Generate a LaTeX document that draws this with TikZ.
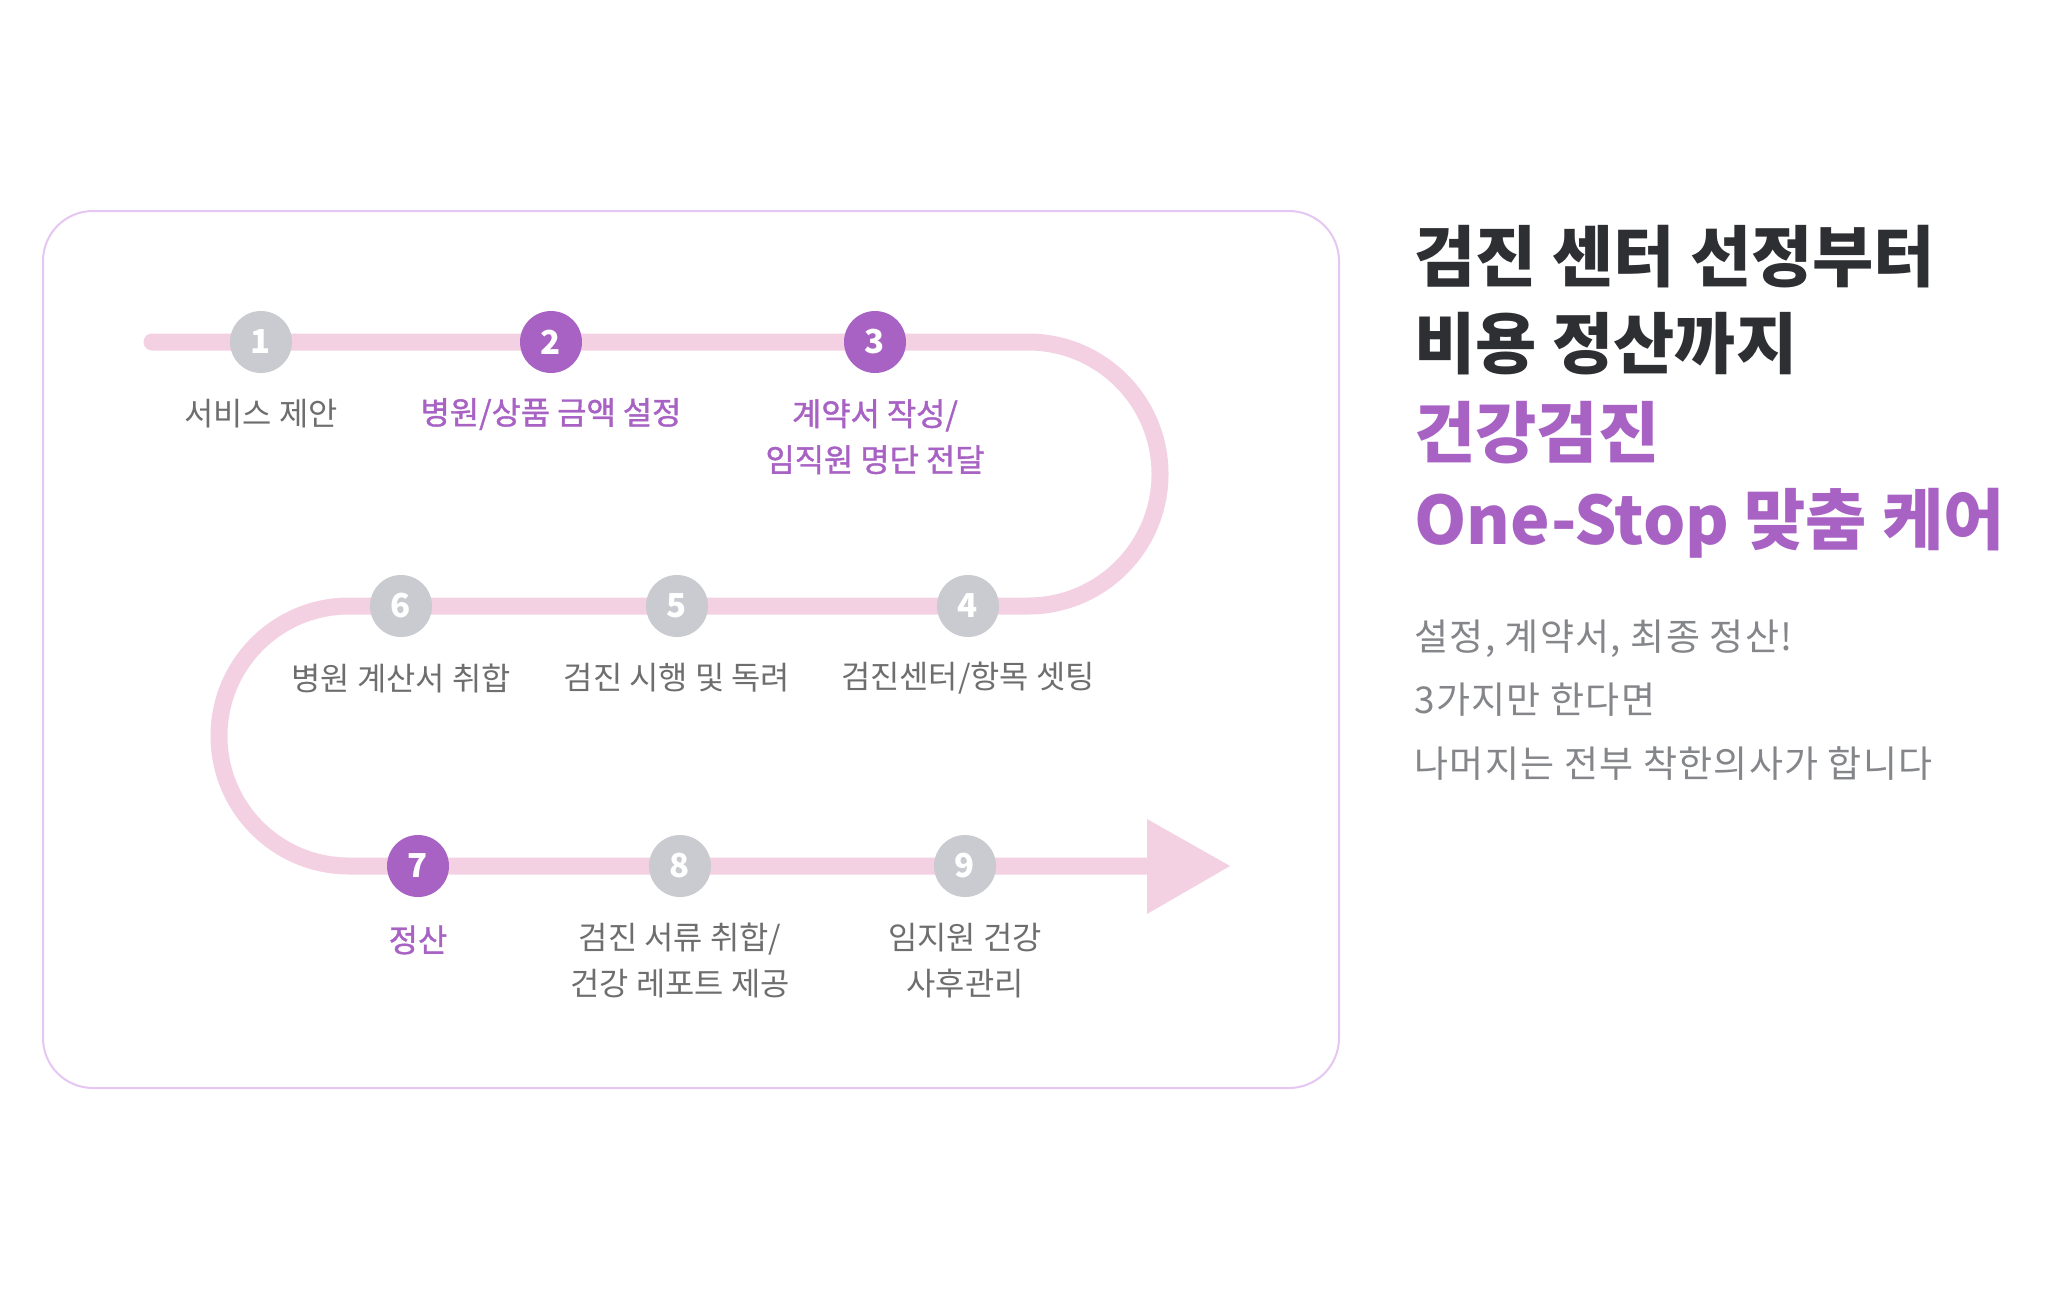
\documentclass[tikz,border=0pt]{standalone}
\usepackage{fontspec}
\setmainfont{Noto Sans CJK KR}
\newfontfamily\kr{Noto Sans CJK KR}
\newfontfamily\krmed[FakeBold=1.2]{Noto Sans CJK KR}
\newfontfamily\krsub[LetterSpace=3.5]{Noto Sans CJK KR}
\definecolor{purp}{HTML}{A862C4}
\definecolor{cgray}{HTML}{C9CBD0}
\definecolor{track}{HTML}{F3D1E3}
\definecolor{frame}{HTML}{E6C6F2}
\definecolor{dark}{HTML}{2E2F33}
\definecolor{lgray}{HTML}{6E6E6E}
\definecolor{sgray}{HTML}{84868A}
\tikzset{
  stepdot/.style={circle, minimum size=31pt, inner sep=0pt, text=white, font=\kr\bfseries\fontsize{16.5}{16.5}\selectfont},
  graydot/.style={stepdot, fill=cgray},
  purpdot/.style={stepdot, fill=purp},
  lbl/.style={align=center, inner sep=0pt, font=\kr\fontsize{15.9}{23}\selectfont},
  graylbl/.style={lbl, text=lgray},
  purplbl/.style={lbl, text=purp, font=\krmed\fontsize{15.9}{23}\selectfont},
  ttl/.style={anchor=west, inner sep=0pt, font=\kr\bfseries\fontsize{33.3}{33.3}\selectfont},
  sub/.style={anchor=west, inner sep=0pt, text=sgray, font=\krsub\fontsize{18.5}{18.5}\selectfont},
}
\begin{document}
\begin{tikzpicture}[x=0.5pt,y=0.5pt]
\useasboundingbox[fill=white] (0,0) rectangle (2048,-1301);
% frame
\draw[frame, line width=1pt, rounded corners=25pt] (43,-211) rectangle (1339,-1088);
% track
\draw[track, line width=8.5pt, line cap=round]
  (152,-342) -- (1028,-342) arc[start angle=90, end angle=-90, radius=132]
  -- (349,-606) arc[start angle=90, end angle=270, radius=130] -- (1152,-866);
\fill[track] (1147,-819) -- (1230,-866) -- (1147,-914) -- cycle;
% steps
\node[graydot] (s1) at (261,-342) {1};
\node[purpdot] (s2) at (551,-342) {2};
\node[purpdot] (s3) at (875,-342) {3};
\node[graydot] (s4) at (968,-606) {4};
\node[graydot] (s5) at (677,-606) {5};
\node[graydot] (s6) at (401,-606) {6};
\node[purpdot] (s7) at (418,-866) {7};
\node[graydot] (s8) at (680,-866) {8};
\node[graydot] (s9) at (965,-866) {9};
% labels
\node[graylbl] (l1) at (261,-414) {서비스 제안};
\node[purplbl] (l2) at (551,-414) {병원/상품 금액 설정};
\node[purplbl, anchor=north] (l3) at (875,-399) {계약서 작성/\\임직원 명단 전달};
\node[graylbl] (l4) at (968,-678) {검진센터/항목 셋팅};
\node[graylbl] (l5) at (677,-678) {검진 시행 및 독려};
\node[graylbl] (l6) at (401,-678) {병원 계산서 취합};
\node[purplbl] (l7) at (418,-940) {정산};
\node[graylbl, anchor=north] (l8) at (680,-923) {검진 서류 취합/\\건강 레포트 제공};
\node[graylbl, anchor=north] (l9) at (965,-923) {임지원 건강\\사후관리};
% right text
\node[ttl, text=dark] (t1) at (1414,-257) {검진 센터 선정부터};
\node[ttl, text=dark] (t2) at (1414,-344) {비용 정산까지};
\node[ttl, text=purp] (t3) at (1414,-433) {건강검진};
\node[ttl, text=purp] (t4) at (1414,-523) {One-Stop 맞춤 케어};
\node[sub] (u1) at (1414,-639) {설정, 계약서, 최종 정산!};
\node[sub] (u2) at (1414,-700) {3가지만 한다면};
\node[sub] (u3) at (1414,-763) {나머지는 전부 착한의사가 합니다};
\end{tikzpicture}
\end{document}
